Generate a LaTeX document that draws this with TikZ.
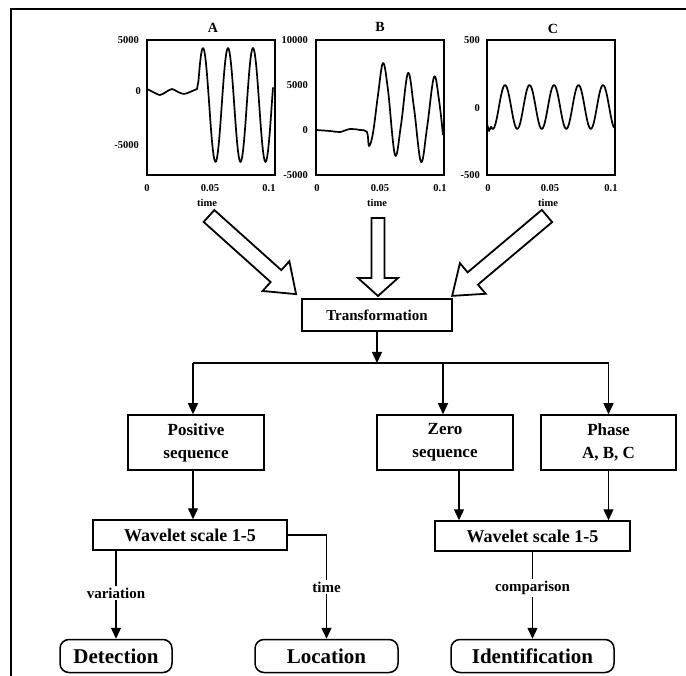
\documentclass[tikz,border=0pt]{standalone}
\usepackage{fontspec}
\setmainfont{Liberation Serif}
\usetikzlibrary{arrows.meta}
\begin{document}
\begin{tikzpicture}[x=1pt,y=-1pt,
  frame/.style={line width=2.2pt},
  axbox/.style={line width=1.5pt},
  trace/.style={line width=1.7pt,line join=round},
  ticklab/.style={font=\bfseries\fontsize{10.5}{11}\selectfont,inner sep=0pt},
  ylab/.style={ticklab,anchor=east},
  title/.style={font=\bfseries\fontsize{14}{15}\selectfont,inner sep=0pt},
  blk/.style={line width=1.8pt,line join=miter,fill=white},
  box/.style={draw,line width=1.5pt,rectangle,inner sep=0pt,align=center,
    font=\bfseries\fontsize{17}{23}\selectfont},
  endbox/.style={box,rounded corners=9pt,font=\bfseries\fontsize{21}{23}\selectfont},
  link/.style={line width=1.4pt},
  arr/.style={link,-{Triangle[length=11pt,width=10pt]}},
  lab/.style={fill=white,inner sep=2pt,font=\bfseries\fontsize{15}{17}\selectfont}
]
\useasboundingbox (0,0) rectangle (686,676);

% outer frame (top and left edges)
\draw[frame] (11,676) -- (11,9) -- (686,9);

% ---------- signal plots ----------
% plot A
\draw[axbox] (147,40) rectangle (275,175);
\node[title] (tA) at (213,28) {A};
\node[ylab] at (139,40) {5000};
\node[ylab] at (141,91) {0};
\node[ylab] at (139,145) {-5000};
\node[ticklab] at (147,188) {0};
\node[ticklab] at (210,188) {0.05};
\node[ticklab] at (269,188) {0.1};
\node[ticklab] at (207,203) {time};
\draw[trace] plot[smooth] coordinates {(147,89) (153,92) (160,95) (166,92) (172,89) (178,92) (184,94) (190,92) (197,89)}
  -- plot[domain=198.5:273,samples=90] (\x,{105-57*sin(14.4*(\x-196.75))});

% plot B
\draw[axbox] (316,40) rectangle (444,175);
\node[title] (tB) at (380,27) {B};
\node[ylab] at (308,40) {10000};
\node[ylab] at (308,85) {5000};
\node[ylab] at (308,130) {0};
\node[ylab] at (308,175) {-5000};
\node[ticklab] at (317,188) {0};
\node[ticklab] at (380,188) {0.05};
\node[ticklab] at (440,188) {0.1};
\node[ticklab] at (377,203) {time};
\draw[trace] plot[smooth,tension=0.6] coordinates {(316,130) (330,131) (340,132) (350,129) (360,130) (367,132)
  (369,146) (373,133) (378,95) (383,63) (388,90) (395,155) (401,125) (408,73) (414,108) (421,162)
  (427,128) (434,77) (439,100) (443,135)};

% plot C
\draw[axbox] (487,40) rectangle (615,175);
\node[title] (tC) at (553,29) {C};
\node[ylab] at (480,40) {500};
\node[ylab] at (480,108) {0};
\node[ylab] at (480,175) {-500};
\node[ticklab] at (488,188) {0};
\node[ticklab] at (550,188) {0.05};
\node[ticklab] at (611,188) {0.1};
\node[ticklab] at (548,203) {time};
\draw[trace] (487,124) -- (489,131)
  -- plot[domain=491:614,samples=110] (\x,{107-22*sin(14.694*(\x-498.9))});

% ---------- hollow block arrows ----------
\begin{scope}[shift={(209,216)},rotate=-41.9]
  \draw[blk] (0,-8) -- (90,-8) -- (90,-20) -- (117,0) -- (90,20) -- (90,8) -- (0,8) -- cycle;
\end{scope}
\begin{scope}[shift={(378,218)},rotate=-90]
  \draw[blk] (0,-6.5) -- (60,-6.5) -- (60,-20) -- (78,0) -- (60,20) -- (60,6.5) -- (0,6.5) -- cycle;
\end{scope}
\begin{scope}[shift={(547,216)},rotate=220.1]
  \draw[blk] (0,-8) -- (97,-8) -- (97,-20) -- (124,0) -- (97,20) -- (97,8) -- (0,8) -- cycle;
\end{scope}

% ---------- flow chart ----------
\node[box,minimum width=150pt,minimum height=32pt,font=\bfseries\fontsize{15}{17}\selectfont]
  (trans) at (377,315) {Transformation};

\node[box,minimum width=136pt,minimum height=55pt] (pos)   at (196,442.5) {Positive\\sequence};
\node[box,minimum width=136pt,minimum height=55pt] (zero)  at (445,442.5) {Zero\\sequence};
\node[box,minimum width=135pt,minimum height=55pt] (phase) at (608.5,442.5) {Phase\\A, B, C};

\node[box,minimum width=194pt,minimum height=30pt,font=\bfseries\fontsize{18}{20}\selectfont]
  (wav1) at (190,535) {Wavelet scale 1-5};
\node[box,minimum width=195pt,minimum height=30pt,font=\bfseries\fontsize{18}{20}\selectfont]
  (wav2) at (532.5,536) {Wavelet scale 1-5};

\node[endbox,minimum width=112pt,minimum height=33pt] (det)   at (116,656) {Detection};
\node[endbox,minimum width=143pt,minimum height=33pt] (loc)   at (326.5,656) {Location};
\node[endbox,minimum width=163pt,minimum height=33pt] (ident) at (532.5,656) {Identification};

% distribution bus below the transformation
\coordinate (bus) at (377,363);
\draw[arr] (trans.south) -- (trans.south |- bus);
\draw[link] ([xshift=-3pt]pos.north |- bus) -- (phase.north |- bus);
\draw[arr] ([xshift=-3pt]pos.north |- bus) -- ([xshift=-3pt]pos.north);
\draw[arr] ([xshift=-2pt]zero.north |- bus) -- ([xshift=-2pt]zero.north);
\draw[arr] (phase.north |- bus) -- (phase.north);

% into the wavelet stages
\draw[arr] ([xshift=-3pt]pos.south) -- ([xshift=-3pt]pos.south |- wav1.north);
\draw[arr] ([xshift=14pt]zero.south) -- ([xshift=14pt]zero.south |- wav2.north);
\draw[arr] (phase.south) -- (phase.south |- wav2.north);

% outputs
\draw[arr] (det.north |- wav1.south) -- node[lab,pos=0.48] {variation} (det.north);
\draw[arr] (wav1.east) -| node[lab,pos=0.75] {time} (loc.north);
\draw[arr] (wav2.south) -- node[lab,pos=0.42] {comparison} (ident.north);
\end{tikzpicture}
\end{document}
